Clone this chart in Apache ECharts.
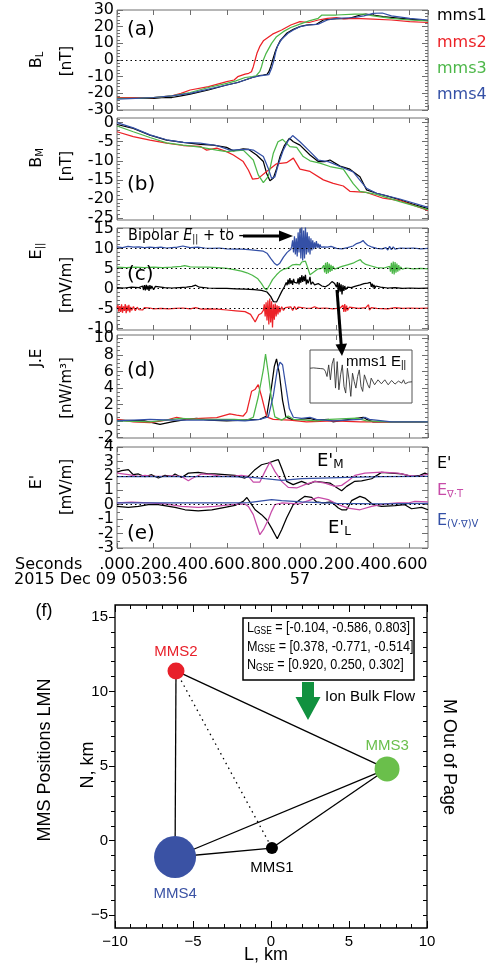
<!DOCTYPE html>
<html>
<head>
<meta charset="utf-8">
<title>MMS magnetopause crossing, 2015 Dec 09</title>
<script src="https://cdn.jsdelivr.net/npm/echarts@6.0.0/dist/echarts.min.js"></script>
<style>
  html, body { margin: 0; padding: 0; background: #fff; }
  #chart { width: 500px; height: 966px; }
</style>
</head>
<body>
<div id="chart"></div>
<script>
// ---------------- data: seconds after 05:03:56 UT ----------------

// (a) B_L [nT]
const tBL1 = [0,.1,.2,.26,.3,.35,.4,.5,.6,.66,.7,.74,.78,.8,.82,.83,.84,.851,.862,.872,.891,.927,.964,1.0,1.036,1.09,1.128,1.18,1.27,1.33,1.36,1.4,1.455,1.55,1.7];
const bL1  = [-23,-23,-23,-22.5,-22.5,-21.5,-20.5,-18,-15,-13.5,-12,-10.5,-9.3,-9,-8.6,-7,-4,0,4,7,11.4,16,18.4,20,21,21.4,24,24.6,25,27,27.6,27,26,25,23.6];
const tBL2 = [0,.1,.2,.3,.35,.4,.5,.6,.64,.66,.7,.72,.735,.745,.755,.765,.78,.8,.85,.9,.95,1.0,1.05,1.1,1.15,1.2,1.24,1.3,1.4,1.5,1.6,1.7];
const bL2  = [-22.5,-22.5,-22.5,-21.5,-20,-18,-16,-13,-12,-10,-8.5,-8,-7,-4,0,4,8,11.5,15.5,18,21,23,22.5,24,25,25.5,24.6,25,24.5,24,23,22.5];
const tBL3 = [0,.1,.2,.3,.4,.5,.6,.65,.7,.74,.76,.78,.79,.8,.815,.845,.872,.909,.95,1.0,1.05,1.1,1.12,1.2,1.3,1.35,1.4,1.5,1.6,1.7];
const bL3  = [-23,-23,-22.5,-21.5,-19.5,-16.5,-14,-12.5,-10.5,-10,-9.5,-7,-4,0,4,10,14,17,19.5,21.5,23.5,25,27,27,27.5,27.5,26.5,25,24,23.5];
const tBL4 = [0,.1,.2,.3,.4,.5,.6,.66,.7,.74,.78,.8,.83,.845,.858,.868,.878,.9,.935,.964,1.0,1.05,1.1,1.15,1.2,1.3,1.35,1.4,1.45,1.5,1.6,1.7];
const bL4  = [-23.5,-23,-22.5,-21.5,-20,-17.5,-15,-13.5,-12,-10.5,-9.5,-9.2,-8.8,-5,0,5,8.5,12.5,16,18,20,21,21.5,24,25,25.5,26.5,28,28.2,26.5,25,24];

// (b) B_M [nT]
const tBM1 = [0,.089,.18,.271,.362,.454,.526,.599,.636,.69,.718,.763,.80,.818,.836,.854,.873,.891,.915,.942,.964,1.0,1.055,1.1,1.137,1.164,1.219,1.273,1.328,1.364,1.419,1.474,1.546,1.619,1.7];
const bM1  = [-0.5,-1.5,-3.3,-4.6,-5.2,-5.7,-5.9,-6.5,-7.4,-6.9,-7.0,-8.5,-10.2,-13.3,-15.2,-14.6,-12,-8.9,-6,-4.1,-5.0,-5.9,-8.5,-10.2,-10.2,-9.8,-11.4,-12.2,-14.2,-17.6,-18.5,-19.2,-20.2,-21.4,-22.5];
const tBM2 = [0,.089,.18,.271,.362,.454,.49,.545,.599,.636,.69,.718,.741,.772,.818,.872,.927,.964,1.0,1.055,1.128,1.182,1.237,1.273,1.364,1.455,1.546,1.7];
const bM2  = [-2.4,-3.7,-4.6,-5.4,-6.0,-6.2,-7.2,-6.7,-7.6,-8.5,-10.2,-12.4,-14.8,-14.6,-12.8,-10.8,-10.5,-9.3,-12.2,-12.8,-15.0,-15.9,-16.6,-18.0,-18.3,-19.8,-20.4,-23.0];
const tBM3 = [0,.089,.18,.271,.362,.454,.545,.599,.69,.745,.772,.80,.827,.854,.88,.905,.945,.982,1.018,1.055,1.109,1.164,1.237,1.291,1.328,1.419,1.546,1.7];
const bM3  = [-0.9,-2.4,-3.9,-5.3,-5.9,-6.4,-7.2,-7.6,-7.2,-9.8,-13.7,-15.7,-14.1,-8.1,-5.0,-4.4,-6.3,-6.5,-8.9,-10.0,-10.6,-11.5,-12.2,-16.0,-18.0,-18.8,-20.7,-22.8];
const tBM4 = [0,.089,.18,.271,.362,.454,.545,.617,.718,.745,.80,.827,.845,.863,.885,.909,.935,.96,1.0,1.055,1.1,1.155,1.219,1.291,1.364,1.419,1.546,1.7];
const bM4  = [0,-1.4,-3.2,-4.5,-5.2,-5.4,-6.0,-7.2,-7.0,-7.2,-8.9,-12,-14.6,-14.2,-10.5,-7.2,-4.8,-3.4,-5.0,-7.6,-9.8,-10.2,-11.5,-12.9,-17.2,-18.5,-20.0,-22.2];

// (c) E_parallel [mV/m], traces offset: mms4 +10, mms3 +5, mms1 0, mms2 -5
const tEp1 = [0,.04,.08,.12,.14,.145,.15,.155,.16,.165,.17,.175,.18,.185,.19,.2,.21,.22,.23,.24,.26,.3,.34,.38,.41,.43,.45,.5,.55,.6,.65,.7,.75,.79,.82,.84,.855,.872,.885,.9,.915,.925,.93,.935,.94,.945,.95,.955,.96,.965,.97,.975,.98,.985,.99,.995,1.0,1.005,1.01,1.015,1.02,1.025,1.03,1.035,1.04,1.045,1.05,1.055,1.06,1.07,1.08,1.09,1.10,1.12,1.14,1.16,1.175,1.19,1.2,1.205,1.21,1.215,1.22,1.225,1.23,1.235,1.24,1.245,1.25,1.26,1.28,1.30,1.33,1.35,1.37,1.38,1.385,1.39,1.395,1.40,1.405,1.41,1.415,1.42,1.44,1.48,1.52,1.56,1.6,1.65,1.7];
const eP1  = [0.2,0.1,0.3,0.2,0.6,-0.4,0.8,-0.5,0.9,-0.3,0.7,-0.6,0.8,-0.2,0.6,-0.3,0.5,0.0,0.4,0.1,0.2,0.1,0.2,0.3,0.5,0.8,0.3,0.1,0.0,0.0,-0.1,-0.2,-0.3,-0.5,-0.9,-2.0,-3.3,-3.4,-2.2,-0.8,0.4,1.5,0.8,2.2,1.0,2.6,1.2,2.0,0.9,2.4,1.5,1.1,2.0,1.3,2.5,1.0,2.8,1.4,3.3,1.6,3.0,1.8,3.4,1.0,2.2,1.3,2.0,2.9,1.0,1.6,0.9,0.6,1.2,0.6,0.4,1.0,1.7,1.2,0.3,1.6,-1.2,1.4,-0.8,1.0,-1.5,0.8,-0.6,0.6,-0.3,0.3,0.2,0.5,0.9,1.2,1.3,0.9,1.5,0.4,1.2,0.2,0.9,0.0,0.6,0.1,0.3,0.1,0.2,0.0,0.1,0.0,0.1];
const tEp2 = [0,.005,.01,.015,.02,.025,.03,.035,.04,.045,.05,.055,.06,.065,.07,.075,.08,.09,.10,.11,.12,.13,.14,.15,.16,.18,.20,.24,.28,.32,.36,.40,.43,.46,.50,.55,.60,.65,.70,.73,.745,.755,.765,.775,.79,.80,.805,.81,.815,.82,.825,.83,.835,.84,.845,.85,.855,.86,.865,.87,.875,.88,.885,.89,.90,.91,.92,.93,.95,.96,.97,.98,.99,1.0,1.03,1.06,1.08,1.1,1.14,1.18,1.22,1.235,1.24,1.245,1.25,1.255,1.26,1.27,1.28,1.32,1.36,1.375,1.38,1.39,1.42,1.48,1.52,1.56,1.60,1.65,1.70];
const eP2  = [-5.0,-4.2,-5.8,-4.4,-5.9,-4.0,-6.1,-4.5,-5.6,-3.9,-6.2,-4.3,-5.7,-4.1,-6.0,-4.6,-5.5,-4.5,-5.6,-4.7,-5.3,-4.8,-5.4,-4.8,-5.2,-4.9,-5.1,-5.0,-5.1,-5.0,-4.9,-5.1,-4.8,-5.2,-5.1,-5.2,-5.4,-5.6,-5.8,-6.5,-7.6,-8.4,-7.5,-6.6,-6.2,-5.5,-4.0,-7.0,-3.5,-8.0,-3.0,-9.0,-2.5,-8.5,-3.2,-9.8,-4.0,-7.8,-3.8,-7.0,-4.2,-6.5,-4.4,-6.0,-4.6,-5.5,-4.8,-5.3,-4.6,-5.5,-4.5,-5.3,-4.7,-5.1,-4.9,-5.0,-4.6,-5.0,-4.9,-5.1,-4.9,-4.2,-5.9,-3.9,-5.8,-4.3,-5.5,-4.7,-5.1,-5.0,-4.8,-4.1,-5.4,-4.8,-5.0,-5.1,-4.8,-5.0,-4.9,-5.0,-4.9];
const tEp3 = [0,.05,.1,.15,.2,.25,.3,.35,.37,.40,.45,.5,.55,.6,.64,.68,.71,.74,.77,.79,.805,.818,.835,.85,.872,.89,.91,.93,.96,.98,.99,1.0,1.01,1.02,1.03,1.04,1.055,1.07,1.08,1.10,1.12,1.13,1.135,1.14,1.145,1.15,1.155,1.16,1.165,1.17,1.175,1.18,1.19,1.20,1.23,1.26,1.29,1.31,1.32,1.33,1.34,1.36,1.39,1.42,1.46,1.49,1.495,1.50,1.505,1.51,1.515,1.52,1.525,1.53,1.535,1.54,1.545,1.55,1.56,1.58,1.62,1.66,1.70];
const eP3  = [5.3,5.2,5.3,5.2,5.3,5.2,5.3,5.5,5.7,5.4,5.3,5.3,5.2,5.0,4.7,4.3,3.9,3.3,2.4,1.2,0.1,-0.4,0.9,2.2,3.4,4.2,4.8,5.0,5.9,6.0,6.4,5.9,6.6,6.4,6.8,5.5,3.4,3.9,4.3,4.9,5.0,5.8,4.0,6.4,3.6,6.6,3.8,6.2,4.1,5.9,4.4,5.6,4.8,5.1,5.5,5.9,6.3,6.8,6.5,7.2,6.6,6.0,5.6,5.2,5.1,5.5,4.2,6.4,3.7,6.7,3.5,6.6,3.9,6.2,4.2,5.8,4.5,5.4,4.8,5.1,4.9,5.0,4.9];
const tEp4 = [0,.03,.06,.09,.12,.15,.18,.21,.24,.27,.30,.33,.36,.38,.40,.44,.48,.52,.56,.60,.64,.68,.72,.76,.80,.82,.84,.86,.875,.89,.91,.93,.95,.955,.96,.965,.97,.975,.98,.985,.99,.995,1.0,1.005,1.01,1.015,1.02,1.025,1.03,1.035,1.04,1.045,1.05,1.055,1.06,1.065,1.07,1.075,1.08,1.085,1.09,1.095,1.10,1.105,1.11,1.115,1.12,1.13,1.14,1.15,1.17,1.20,1.23,1.26,1.29,1.31,1.33,1.345,1.355,1.37,1.39,1.42,1.45,1.47,1.48,1.49,1.50,1.51,1.52,1.55,1.58,1.62,1.66,1.70];
const eP4  = [10.4,10.2,10.5,10.3,10.4,10.2,10.3,10.2,10.3,10.1,10.2,10.3,10.6,10.4,10.2,10.3,10.1,10.0,10.1,9.9,9.8,9.8,9.7,9.5,9.3,8.8,7.5,6.3,5.8,6.3,7.8,9.0,9.8,10.5,12.0,9.0,13.0,8.5,12.5,8.0,14.0,9.0,15.0,7.5,15.5,7.0,14.5,7.5,15.5,8.5,14.0,9.0,13.0,8.5,12.5,9.5,12.0,9.8,11.5,10.0,11.8,10.2,11.2,10.0,11.0,10.3,10.8,10.4,10.7,10.3,10.5,10.0,9.9,10.2,10.6,11.2,11.5,12.0,11.4,10.8,10.4,10.0,9.9,10.2,9.6,10.5,9.7,10.4,9.8,10.1,10.0,10.1,9.9,10.0];

// (d) inset: mms1 E_parallel burst, consecutive samples
const insetE = [4.5,4.4,4.6,4.3,4.5,4.2,4.4,4.0,4.3,3.6,2.0,5.5,1.0,5.8,7.5,-1.5,6.5,-2.0,2.5,5.5,-1.0,-3.0,4.5,1.0,-4.0,3.0,0.5,-1.5,2.0,4.0,-1.0,-2.5,2.5,3.0,-0.5,-1.5,1.5,2.0,-0.5,-1.0,1.0,1.5,-0.2,-0.8,1.0,1.0,-0.5,-0.5,0.8,0.8,-0.3,-0.2,0.6,0.5,0.0,1.0,-0.2,0.2,0.3,0.1,0.4];

// (d) J.E [nW/m^3]
const tJE1 = [0,.15,.235,.3,.381,.435,.5,.6,.781,.818,.845,.86,.872,.887,.905,.923,.964,1.055,1.09,1.155,1.18,1.346,1.364,1.4,1.6,1.7];
const jE1  = [0.1,0.0,-0.4,-0.1,0.2,0.3,0.1,0.0,0.2,0.6,4.2,6.6,7.5,5.8,2.5,0.5,0.1,0.3,0.1,0.2,-0.1,0.45,0.2,-0.1,-0.1,-0.1];
const tJE2 = [0,.089,.18,.271,.326,.381,.454,.545,.617,.654,.69,.709,.736,.754,.772,.791,.818,.854,.945,1.036,1.18,1.33,1.5,1.7];
const jE2  = [0.2,-0.1,-0.2,0.1,0.45,0.2,0.3,0.4,0.85,0.7,0.6,1.1,3.6,3.8,4.4,2.9,0.5,0.2,0.1,-0.1,0.0,-0.1,-0.1,-0.1];
const tJE3 = [0,.18,.35,.45,.64,.71,.745,.772,.80,.812,.827,.845,.863,.9,.936,.964,1.09,1.164,1.31,1.364,1.5,1.7];
const jE3  = [0.0,-0.1,0.3,0.2,0.2,0.1,0.45,2.9,6.2,8.1,5.8,2.5,0.5,0.1,0.6,0.2,0.0,0.2,0.35,0.0,-0.1,-0.1];
const tJE4 = [0,.18,.3,.45,.6,.7,.78,.827,.854,.876,.891,.905,.923,.942,.964,1.009,1.055,1.09,1.18,1.33,1.355,1.38,1.5,1.7];
const jE4  = [0.0,0.2,0.1,0.1,0.1,0.0,0.2,0.5,3.0,6.2,7.1,6.8,4.2,1.5,0.45,0.3,0.45,0.2,0.0,0.2,0.45,0.2,-0.1,-0.1];

// (e) E' [mV/m]: M component offset by +2, L component at 0
const tEMk = [0,.025,.062,.089,.117,.153,.189,.226,.262,.299,.317,.353,.39,.444,.499,.535,.59,.645,.699,.718,.754,.79,.827,.863,.882,.90,.927,.963,1.009,1.046,1.082,1.118,1.164,1.2,1.228,1.255,1.3,1.337,1.392,1.446,1.501,1.556,1.61,1.656,1.683,1.7];
const eMk  = [2.26,2.36,2.43,2.08,2.13,1.94,2.08,1.85,2.03,1.96,2.13,1.89,2.19,2.24,2.13,2.13,2.08,2.03,1.85,1.96,2.43,2.77,2.89,3.05,3.12,2.54,1.62,1.39,1.62,1.43,1.62,1.57,1.50,1.20,0.97,1.27,1.62,1.66,1.80,2.24,2.19,2.13,1.96,2.03,2.19,2.1];
const tEMt = [0,.062,.117,.153,.189,.262,.299,.353,.39,.407,.462,.517,.572,.627,.68,.718,.745,.781,.809,.836,.863,.90,.936,.982,1.027,1.082,1.137,1.191,1.228,1.264,1.3,1.355,1.446,1.537,1.592,1.647,1.7];
const eMt  = [2.19,2.08,1.96,2.03,1.96,1.96,2.0,1.96,1.66,1.80,2.13,2.08,1.96,1.96,2.03,1.96,1.57,1.57,2.31,2.96,2.31,1.62,1.20,1.16,1.39,1.62,1.50,1.27,1.34,1.66,2.03,2.19,2.26,2.19,2.03,1.96,2.13];
const tEMv = [0,.2,.4,.6,.72,.81,.90,1.01,1.12,1.26,1.45,1.7];
const eMv  = [1.94,1.94,1.94,1.94,1.92,1.80,1.69,1.80,1.85,1.89,1.94,1.96];
const tELk = [0,.062,.117,.171,.226,.317,.372,.444,.518,.59,.645,.69,.71,.736,.755,.79,.818,.845,.876,.90,.927,.963,1.0,1.027,1.064,1.091,1.127,1.173,1.21,1.228,1.255,1.282,1.328,1.355,1.40,1.446,1.52,1.573,1.61,1.665,1.7];
const eLk  = [-0.12,-0.18,-0.12,0.0,0.0,-0.18,-0.35,-0.42,-0.35,-0.18,-0.05,0.23,0.5,0.0,-0.35,-0.69,-1.04,-1.62,-2.36,-1.73,-0.92,0.0,0.35,0.58,0.51,0.19,0.12,0.19,-0.23,-0.35,-0.35,0.28,0.58,0.46,0.0,-0.12,-0.07,0.0,-0.28,-0.18,-0.35];
const tELt = [0,.08,.171,.262,.353,.444,.535,.627,.699,.718,.745,.763,.781,.8,.827,.845,.863,.9,.991,1.046,1.1,1.155,1.21,1.264,1.328,1.392,1.465,1.537,1.592,1.628,1.7];
const eLt  = [0.12,0.18,0.12,0.05,-0.12,-0.18,-0.12,0.0,0.05,-0.12,-0.69,-1.39,-2.08,-1.73,-1.04,-0.46,0.0,0.12,0.05,0.28,0.51,0.35,0.0,-0.23,-0.35,-0.12,0.05,0.12,0.12,0.23,0.19];
const tELv = [0,.3,.6,.72,.845,.9,1.01,1.2,1.45,1.7];
const eLv  = [0.12,0.12,0.12,0.14,0.35,0.28,0.19,0.1,0.05,0.09];

// (f) spacecraft positions in LMN [km]
const craftNames = ['MMS1', 'MMS2', 'MMS3', 'MMS4'];
const posL = [0.06, -6.09, 7.44, -6.15];
const posN = [-0.49, 11.38, 4.81, -1.09];
const solidLinks = [['MMS2','MMS4'], ['MMS2','MMS3'], ['MMS4','MMS3'], ['MMS4','MMS1'], ['MMS1','MMS3']];
const dottedLinks = [['MMS2','MMS1']];
const frameVectors = [
  ['L', '[-0.104, -0.586, 0.803]'],
  ['M', '[0.378, -0.771, -0.514]'],
  ['N', '[0.920, 0.250, 0.302]']
];

// ---------------- drawing ----------------
const SANS = 'DejaVu Sans';
const HELV = 'Liberation Sans';
const COL = { mms1: '#000000', mms2: '#ec2227', mms3: '#4cb748', mms4: '#3450a6', curl: '#c74ba8' };
const FRAME = '#6e6e6e';
const NO_LINE = { show: false, onZero: false };

const grids = [], xAxes = [], yAxes = [], series = [], graphics = [];

function steps(a, b, s) {
  const out = [];
  for (let v = a; v <= b + 1e-9; v += s) out.push(+v.toFixed(3));
  return out;
}

// Tick labels are spread over two stacked axes (alternate values) so that
// tightly spaced labels are never dropped by overlap handling.
function yLabelStyle(show, values) {
  return {
    show, customValues: values, showMinLabel: true, showMaxLabel: true, hideOverlap: false,
    margin: 3, color: '#000', fontFamily: SANS, fontSize: 16
  };
}

function addPanel(top, height, y) {
  const gi = grids.length;
  grids.push({ left: 117, width: 311, top, height, show: true, borderColor: FRAME, borderWidth: 1, outerBoundsMode: 'none' });
  const xi = xAxes.length;
  for (const pos of ['bottom', 'top']) {
    xAxes.push({
      gridIndex: gi, type: 'value', position: pos, min: 0, max: 1.7, interval: 0.2,
      axisLine: NO_LINE, splitLine: { show: false },
      axisTick: { inside: true, length: 5, lineStyle: { color: FRAME } },
      axisLabel: { show: false }
    });
  }
  const yi = yAxes.length;
  const minors = steps(y.minor[0], y.minor[1], y.minor[2]);
  const evenLabels = y.major.filter((_, k) => k % 2 === 0);
  const oddLabels = y.major.filter((_, k) => k % 2 === 1);
  for (const pos of ['left', 'right']) {
    yAxes.push({
      gridIndex: gi, type: 'value', position: pos, min: y.min, max: y.max,
      axisLine: NO_LINE, splitLine: { show: false },
      axisTick: { inside: true, length: 6, customValues: y.major, lineStyle: { color: FRAME } },
      axisLabel: yLabelStyle(pos === 'left', evenLabels)
    });
    yAxes.push({
      gridIndex: gi, type: 'value', position: pos, min: y.min, max: y.max,
      axisLine: NO_LINE, splitLine: { show: false },
      axisTick: { inside: true, length: 3, customValues: minors, lineStyle: { color: FRAME } },
      axisLabel: yLabelStyle(pos === 'left', oddLabels)
    });
  }
  return { gi, xi, yi };
}

function trace(p, t, v, color, extra) {
  series.push(Object.assign({
    type: 'line', xAxisIndex: p.xi, yAxisIndex: p.yi,
    data: t.map((x, k) => [x, v[k]]),
    symbol: 'none', showSymbol: false, silent: true,
    lineStyle: { color, width: 1.25 }, itemStyle: { color }, z: 3
  }, extra || {}));
}

function refLines(values) {
  return {
    markLine: {
      silent: true, symbol: 'none', label: { show: false },
      lineStyle: { color: '#000', type: [1.5, 3], width: 1.2 },
      data: values.map(v => ({ yAxis: v }))
    }
  };
}

function text(x, y, str, o) {
  o = o || {};
  graphics.push({
    type: 'text', x, y, rotation: o.rot || 0, scaleX: o.sx || 1, z: 100, silent: true,
    style: {
      text: str, rich: o.rich,
      fill: o.color || '#000',
      fontFamily: o.family || SANS, fontSize: o.size || 16,
      fontStyle: o.italic ? 'italic' : 'normal',
      align: o.align || 'left', textAlign: o.align || 'left',
      verticalAlign: 'middle', textVerticalAlign: 'middle'
    }
  });
}

function sub(size, family, color, pad) {
  return {
    m: { fontSize: size, fontFamily: family, fill: color },
    i: { fontSize: size, fontFamily: family, fill: color, fontStyle: 'italic' },
    s: { fontSize: Math.round(size * 0.65), fontFamily: family, fill: color, padding: [pad, 0, 0, 0] }
  };
}

// ---- (a) ----
const pA = addPanel(10, 100, { min: -30, max: 30, major: [-30,-20,-10,0,10,20,30], minor: [-30, 30, 2] });
trace(pA, tBL1, bL1, COL.mms1, refLines([0]));
trace(pA, tBL2, bL2, COL.mms2);
trace(pA, tBL3, bL3, COL.mms3);
trace(pA, tBL4, bL4, COL.mms4);

// ---- (b) ----
const pB = addPanel(118, 102, { min: -25.5, max: 1.2, major: [-25,-20,-15,-10,-5,0], minor: [-25, 1, 1] });
trace(pB, tBM1, bM1, COL.mms1);
trace(pB, tBM2, bM2, COL.mms2);
trace(pB, tBM3, bM3, COL.mms3);
trace(pB, tBM4, bM4, COL.mms4);

// ---- (c) ----
const pC = addPanel(228, 102, { min: -10.4, max: 15.1, major: [-10,-5,0,5,10,15], minor: [-10, 15, 1] });
trace(pC, tEp1, eP1, COL.mms1, refLines([10, 5, 0, -5]));
trace(pC, tEp2, eP2, COL.mms2);
trace(pC, tEp3, eP3, COL.mms3);
trace(pC, tEp4, eP4, COL.mms4);

// ---- (d) ----
const pD = addPanel(335, 103, { min: -2.06, max: 10.4, major: [-2,0,2,4,6,8,10], minor: [-2, 10, 0.5] });
trace(pD, tJE1, jE1, COL.mms1);
trace(pD, tJE2, jE2, COL.mms2);
trace(pD, tJE3, jE3, COL.mms3);
trace(pD, tJE4, jE4, COL.mms4);

// inset inside (d)
const insetGrid = grids.length;
grids.push({ left: 310, top: 350, width: 102, height: 53, show: true, borderColor: '#555', borderWidth: 1, outerBoundsMode: 'none' });
const insetX = xAxes.length;
xAxes.push({ gridIndex: insetGrid, type: 'value', min: 0, max: insetE.length - 1, show: false, axisLine: NO_LINE });
const insetY = yAxes.length;
yAxes.push({ gridIndex: insetGrid, type: 'value', min: -6, max: 10, show: false, axisLine: NO_LINE });
series.push({
  type: 'line', xAxisIndex: insetX, yAxisIndex: insetY, symbol: 'none', silent: true,
  data: insetE.map((v, k) => [k, v]), lineStyle: { color: '#333', width: 0.9 }, z: 3
});

// ---- (e) ----
const pE = addPanel(447, 101, { min: -3, max: 4, major: [-3,-2,-1,0,1,2,3,4], minor: [-3, 4, 0.5] });
trace(pE, tEMk, eMk, COL.mms1, refLines([2, 0]));
trace(pE, tEMt, eMt, COL.curl);
trace(pE, tEMv, eMv, COL.mms4);
trace(pE, tELk, eLk, COL.mms1);
trace(pE, tELt, eLt, COL.curl);
trace(pE, tELv, eLv, COL.mms4);
Object.assign(xAxes[pE.xi].axisLabel, {
  show: true, margin: 9, color: '#000', fontFamily: SANS, fontSize: 16, lineHeight: 15,
  showMinLabel: true, showMaxLabel: false,
  formatter: v => {
    const ms = Math.round(v * 1000) % 1000;
    const s = '.' + String(ms).padStart(3, '0');
    return Math.abs(v - 1) < 1e-6 ? s + '\n57' : s;
  }
});

// ---- (f) positions ----
const fGrid = grids.length;
grids.push({ left: 115, top: 605, width: 312, height: 323, show: true, borderColor: '#000', borderWidth: 1.3, outerBoundsMode: 'none' });
const minus = v => (v < 0 ? '\u2212' + (-v) : String(v));
const fX = xAxes.length;
xAxes.push({
  gridIndex: fGrid, type: 'value', position: 'bottom', min: -10, max: 10, interval: 5,
  axisLine: NO_LINE, splitLine: { show: false },
  axisTick: { inside: true, length: 7, lineStyle: { color: '#000' } },
  minorTick: { show: true, splitNumber: 5, length: 4, lineStyle: { color: '#000' } },
  axisLabel: { margin: 6, color: '#000', fontFamily: HELV, fontSize: 15, formatter: minus, showMinLabel: true, showMaxLabel: true }
});
xAxes.push({
  gridIndex: fGrid, type: 'value', position: 'top', min: -10, max: 10, interval: 5,
  axisLine: NO_LINE, splitLine: { show: false },
  axisTick: { inside: true, length: 7, lineStyle: { color: '#000' } },
  minorTick: { show: true, splitNumber: 5, length: 4, lineStyle: { color: '#000' } },
  axisLabel: { show: false }
});
const fY = yAxes.length;
const fMajor = [-5, 0, 5, 10, 15];
const fMinor = steps(-5, 15, 1);
const fYmin = -5.85, fYmax = 15.8;
yAxes.push({
  gridIndex: fGrid, type: 'value', position: 'left', min: fYmin, max: fYmax,
  axisLine: NO_LINE, splitLine: { show: false },
  axisTick: { inside: false, length: 6, customValues: fMajor, lineStyle: { color: '#000' } },
  axisLabel: { customValues: fMajor, showMinLabel: true, showMaxLabel: true, margin: 7, color: '#000', fontFamily: HELV, fontSize: 15, formatter: minus }
});
yAxes.push({
  gridIndex: fGrid, type: 'value', position: 'left', min: fYmin, max: fYmax,
  axisLine: NO_LINE, splitLine: { show: false },
  axisTick: { inside: false, length: 4, customValues: fMinor, lineStyle: { color: '#000' } },
  axisLabel: { show: false }
});
yAxes.push({
  gridIndex: fGrid, type: 'value', position: 'right', min: fYmin, max: fYmax,
  axisLine: NO_LINE, splitLine: { show: false },
  axisTick: { inside: true, length: 4, customValues: fMinor, lineStyle: { color: '#000' } },
  axisLabel: { show: false }
});

const craftStyle = {
  MMS1: { color: '#000000', size: 12, pos: 'bottom', dist: 6 },
  MMS2: { color: '#e8202a', size: 17, pos: 'top', dist: 3 },
  MMS3: { color: '#6abf4b', size: 25, pos: 'top', dist: 3 },
  MMS4: { color: '#3a52a4', size: 42, pos: 'bottom', dist: 8 }
};
const at = n => { const k = craftNames.indexOf(n); return [posL[k], posN[k]]; };
series.push({
  type: 'lines', coordinateSystem: 'cartesian2d', xAxisIndex: fX, yAxisIndex: fY, silent: true, z: 2,
  data: solidLinks.map(([a, b]) => ({ coords: [at(a), at(b)] })),
  lineStyle: { color: '#000', width: 1.3, opacity: 1, curveness: 0 }
});
series.push({
  type: 'lines', coordinateSystem: 'cartesian2d', xAxisIndex: fX, yAxisIndex: fY, silent: true, z: 2,
  data: dottedLinks.map(([a, b]) => ({ coords: [at(a), at(b)] })),
  lineStyle: { color: '#000', width: 1.3, opacity: 1, type: [1.5, 4], curveness: 0 }
});
series.push({
  type: 'scatter', xAxisIndex: fX, yAxisIndex: fY, silent: true, z: 5,
  data: craftNames.map((n, k) => ({
    name: n, value: [posL[k], posN[k]],
    symbolSize: craftStyle[n].size,
    itemStyle: { color: craftStyle[n].color, opacity: 1 },
    label: {
      show: true, position: craftStyle[n].pos, distance: craftStyle[n].dist, formatter: n,
      color: craftStyle[n].color, fontFamily: HELV, fontSize: 15
    }
  }))
});

// ---------------- annotations ----------------
// legend column, top right
text(437, 16, 'mms1', { color: COL.mms1 });
text(437, 43, 'mms2', { color: COL.mms2 });
text(437, 69, 'mms3', { color: COL.mms3 });
text(437, 95, 'mms4', { color: COL.mms4 });

// panel letters
text(127, 30, '(a)', { size: 20 });
text(127, 185, '(b)', { size: 20 });
text(127, 275, '(c)', { size: 20 });
text(127, 371, '(d)', { size: 20 });
text(127, 534, '(e)', { size: 20 });

// rotated axis titles
const R90 = Math.PI / 2;
text(37, 60, '{m|B}{s|L}', { rot: R90, align: 'center', rich: sub(16, SANS, '#000', 6) });
text(67, 61, '[nT]', { rot: R90, align: 'center', size: 15 });
text(37, 158, '{m|B}{s|M}', { rot: R90, align: 'center', rich: sub(16, SANS, '#000', 6) });
text(67, 166, '[nT]', { rot: R90, align: 'center', size: 15 });
text(37, 251, '{m|E}{s|||}', { rot: R90, align: 'center', rich: sub(16, SANS, '#000', 6) });
text(67, 285, '[mV/m]', { rot: R90, align: 'center', size: 15 });
text(37, 358, 'J.E', { rot: R90, align: 'center', size: 15 });
text(67, 388, '[nW/m\u00b3]', { rot: R90, align: 'center', size: 15 });
text(37, 482, "E'", { rot: R90, align: 'center', size: 16 });
text(67, 487, '[mV/m]', { rot: R90, align: 'center', size: 15 });

// (c) annotation and arrows
text(128, 236, '{m|Bipolar }{i|E}{s|||}{m| + to -}', { sx: 0.9, rich: sub(16, SANS, '#000', 7) });
graphics.push({ type: 'line', z: 100, silent: true, shape: { x1: 243, y1: 236, x2: 282, y2: 236 }, style: { stroke: '#000', lineWidth: 3 } });
graphics.push({ type: 'polygon', z: 100, silent: true, shape: { points: [[279, 230.5], [293, 236], [279, 241.5]] }, style: { fill: '#000' } });
graphics.push({ type: 'line', z: 100, silent: true, shape: { x1: 337, y1: 290, x2: 341.2, y2: 345 }, style: { stroke: '#000', lineWidth: 3 } });
graphics.push({ type: 'polygon', z: 100, silent: true, shape: { points: [[335.5, 344.5], [347, 343.5], [342, 356]] }, style: { fill: '#000' } });
text(346, 362, '{m|mms1 E}{s|||}', { rich: sub(15, HELV, '#000', 6) });

// (e) labels
text(317, 461, "{m|E'}{s|M}", { rich: sub(18, SANS, '#000', 8) });
text(328, 528, "{m|E'}{s|L}", { rich: sub(18, SANS, '#000', 8) });
text(437, 464, "E'", { size: 16, color: '#000' });
text(437, 491, '{m|E}{s|\u2207\u00b7T}', { rich: sub(16, SANS, COL.curl, 7) });
text(437, 521, '{m|E}{s|(V\u00b7\u2207)V}', { rich: sub(16, SANS, COL.mms4, 7) });

// time axis captions
text(15, 565, 'Seconds', { size: 16 });
text(14, 580, '2015 Dec 09 0503:56', { size: 16 });

// (f) captions
text(44, 611, '(f)', { family: HELV, size: 18, align: 'center' });
text(45, 760, 'MMS Positions LMN', { family: HELV, size: 18, rot: R90, align: 'center' });
text(88, 765, 'N, km', { family: HELV, size: 18, rot: R90, align: 'center' });
text(266, 955, 'L, km', { family: HELV, size: 18, align: 'center' });
text(449, 757, 'M Out of Page', { family: HELV, size: 18, rot: -R90, align: 'center' });

// LMN frame box
graphics.push({ type: 'rect', z: 99, silent: true, shape: { x: 243, y: 618, width: 171, height: 62 }, style: { fill: '#fff', stroke: '#000', lineWidth: 1.5 } });
frameVectors.forEach(([axis, vec], k) => {
  text(247, 628 + k * 18.5, '{m|' + axis + '}{s|GSE}{m| = ' + vec + '}', { sx: 0.84, rich: sub(15, HELV, '#000', 6) });
});

// ion flow arrow
graphics.push({
  type: 'polygon', z: 100, silent: true,
  shape: { points: [[302, 682], [314, 682], [314, 697], [320.5, 697], [308, 720], [295.5, 697], [302, 697]] },
  style: { fill: '#11913f' }
});
text(325, 697, 'Ion Bulk Flow', { family: HELV, size: 15 });

const chart = echarts.init(document.getElementById('chart'), null, { renderer: 'canvas' });
chart.setOption({
  animation: false,
  backgroundColor: '#fff',
  grid: grids,
  xAxis: xAxes,
  yAxis: yAxes,
  series,
  graphic: { elements: graphics }
});
</script>
</body>
</html>
